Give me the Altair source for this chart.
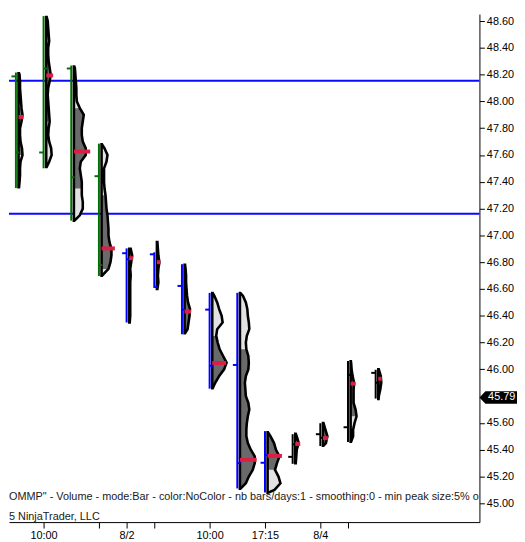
import altair as alt
import pandas as pd

# ---------------- data ----------------
IDX = list(range(1, 15))
GROUP = ["s1", "s1", "s1", "s1", "s2", "s2", "s2", "s2", "s2", "s2", "s3", "s3", "s3", "s3"]
GROUP_COLORS = ["#007000", "#0000ff", "#000000"]

HIGH = [48.216, 48.637, 48.268, 47.685, 46.903, 46.874, 46.785, 46.571, 46.571, 45.539, 45.516, 45.598, 46.062, 45.997]
LOW = [47.353, 47.501, 47.110, 46.697, 46.350, 46.608, 46.262, 45.856, 45.111, 45.081, 45.295, 45.428, 45.457, 45.782]
OPEN = [48.187, 47.619, 48.246, 47.442, 46.867, 46.859, 46.623, 46.446, 46.033, 45.303, 45.347, 45.516, 45.568, 45.974]
CLOSE = [47.619, 48.246, 47.434, 46.778, 46.822, 46.616, 46.446, 46.026, 45.300, 45.360, 45.440, 45.490, 45.959, 45.900]
POC = [47.884, 48.194, 47.626, 46.903, 46.830, 46.800, 46.431, 46.048, 45.325, 45.354, 45.443, 45.487, 45.893, 45.930]
POC_VOL = [5, 7, 16.5, 13.5, 4, 3.5, 6.5, 14, 17, 14.5, 5, 5, 5, 3.5]
VA_HIGH = [47.98, 48.32, 47.97, 47.30, 46.88, 46.85, 46.56, 46.27, 46.16, 45.52, 45.48, 45.56, 45.95, 45.96]
VA_LOW = [47.58, 47.82, 47.33, 46.72, 46.78, 46.70, 46.30, 45.88, 45.11, 45.22, 45.38, 45.45, 45.62, 45.85]

P01_PRICE = [48.21, 48.20, 48.15, 48.10, 48.05, 48.00, 47.95, 47.90, 47.85, 47.80, 47.75, 47.70, 47.65, 47.60, 47.55, 47.50, 47.45, 47.40, 47.36]
P01_VOL = [0.5, 1, 1.5, 1.5, 2, 2.5, 3, 4, 3, 1.5, 1.5, 2, 3.5, 4, 2, 1.5, 1.5, 1, 0.5]
P02_PRICE = [48.63, 48.60, 48.55, 48.50, 48.45, 48.40, 48.35, 48.30, 48.25, 48.20, 48.15, 48.10, 48.05, 48.00, 47.95, 47.90, 47.85, 47.80, 47.75, 47.70, 47.65, 47.60, 47.55, 47.51]
P02_VOL = [0.5, 1.5, 2, 2.5, 3, 2, 2, 2.5, 3.5, 4.5, 3.5, 2, 1.5, 2, 2.5, 3, 3.5, 2.5, 2, 3, 5, 5.5, 3, 0.5]
P03_PRICE = [48.26, 48.25, 48.20, 48.15, 48.10, 48.05, 48.00, 47.95, 47.90, 47.85, 47.80, 47.75, 47.70, 47.65, 47.60, 47.55, 47.50, 47.45, 47.40, 47.35, 47.30, 47.25, 47.20, 47.15, 47.11]
P03_VOL = [0.5, 1, 1.5, 2, 2.5, 2.5, 3, 6, 10, 9, 8, 8, 9, 12, 12, 7, 6, 7, 8, 8, 8, 9, 9, 6, 0.5]
P04_PRICE = [47.68, 47.65, 47.60, 47.55, 47.50, 47.45, 47.40, 47.35, 47.30, 47.25, 47.20, 47.15, 47.10, 47.05, 47.00, 46.95, 46.90, 46.85, 46.80, 46.75, 46.70]
P04_VOL = [0.5, 3, 6, 5, 2.5, 2.5, 2.5, 3, 4, 4.5, 5, 6, 6.5, 7, 7, 8, 10, 10, 9, 7, 0.5]
P05_PRICE = [46.90, 46.85, 46.80, 46.75, 46.70, 46.65, 46.60, 46.55, 46.50, 46.45, 46.40, 46.35]
P05_VOL = [1.5, 3, 2, 1, 1.5, 1, 1, 1, 1, 1, 1, 0.5]
P06_PRICE = [46.95, 46.90, 46.85, 46.80, 46.75, 46.70, 46.65, 46.60]
P06_VOL = [0.5, 1, 1.5, 2.5, 1.5, 1, 1.5, 0.5]
P07_PRICE = [46.78, 46.75, 46.70, 46.65, 46.60, 46.55, 46.50, 46.45, 46.40, 46.35, 46.30, 46.27]
P07_VOL = [0.5, 1, 1.5, 1.5, 2, 2.5, 3.5, 5.5, 5, 4, 3, 0.5]
P08_PRICE = [46.57, 46.55, 46.50, 46.45, 46.40, 46.35, 46.30, 46.25, 46.20, 46.15, 46.10, 46.05, 46.00, 45.95, 45.90, 45.86]
P08_VOL = [0.5, 2, 5, 7, 9.5, 10.5, 5, 4, 5.5, 7.5, 11, 14.5, 12, 7, 3, 0.5]
P09_PRICE = [46.57, 46.55, 46.50, 46.45, 46.40, 46.35, 46.30, 46.25, 46.20, 46.15, 46.10, 46.05, 46.00, 45.95, 45.90, 45.85,
             45.80, 45.75, 45.70, 45.65, 45.60, 45.55, 45.50, 45.45, 45.40, 45.35, 45.30, 45.25, 45.20, 45.15, 45.11]
P09_VOL = [0.5, 3, 6, 7.5, 8, 9, 9.5, 7, 6, 6.5, 8.5, 9, 8.5, 6, 5, 5.5,
           6, 8.5, 9.5, 8, 7, 6.5, 6.5, 8, 11, 15, 15, 13, 9, 6, 0.5]
P10_PRICE = [45.53, 45.50, 45.45, 45.40, 45.35, 45.30, 45.25, 45.20, 45.15, 45.10, 45.08]
P10_VOL = [0.5, 3, 6.5, 8.5, 12, 9.5, 7.5, 11, 13, 7, 0.5]
P11_PRICE = [45.52, 45.50, 45.45, 45.40, 45.35, 45.30]
P11_VOL = [0.5, 1.5, 3.5, 1.5, 1, 0.5]
P12_PRICE = [45.60, 45.55, 45.50, 45.45, 45.43]
P12_VOL = [0.5, 2.5, 4.5, 3, 0.5]
P13_PRICE = [46.06, 46.05, 46.00, 45.95, 45.90, 45.85, 45.80, 45.75, 45.70, 45.65, 45.60, 45.55, 45.50, 45.46]
P13_VOL = [0.3, 0.5, 1, 2, 3.5, 3, 3, 3, 5, 6, 4, 2.5, 2.5, 0.5]
P14_PRICE = [46.00, 45.95, 45.90, 45.85, 45.80, 45.78]
P14_VOL = [0.5, 2.5, 3, 2, 0.5, 0.3]

PRICES = [P01_PRICE, P02_PRICE, P03_PRICE, P04_PRICE, P05_PRICE, P06_PRICE, P07_PRICE,
          P08_PRICE, P09_PRICE, P10_PRICE, P11_PRICE, P12_PRICE, P13_PRICE, P14_PRICE]
VOLS = [P01_VOL, P02_VOL, P03_VOL, P04_VOL, P05_VOL, P06_VOL, P07_VOL,
        P08_VOL, P09_VOL, P10_VOL, P11_VOL, P12_VOL, P13_VOL, P14_VOL]

HLINES = [48.154, 47.161]
LAST_PRICE = 45.79

Y_TICKS = [45.0, 45.2, 45.4, 45.6, 46.0, 46.2, 46.4, 46.6, 46.8, 47.0, 47.2, 47.4, 47.6, 47.8, 48.0, 48.2, 48.4, 48.6]
X_TICK_POS = [2, 4, 5, 6, 8, 10, 12, 13]
X_TICK_LABELS = ["10:00", "", "8/2", "", "10:00", "17:15", "8/4", ""]

INDICATOR_TEXT = 'OMMP" - Volume - mode:Bar - color:NoColor - nb bars/days:1 - smoothing:0 - min peak size:5% o'
COPYRIGHT_TEXT = "5 NinjaTrader, LLC"

# ---------------- styling ----------------
BASE_OFF = 0.095
VOL_SCALE = 1 / 28.0
FONT = "Liberation Sans"

rows = []
for i, (pr, vo) in enumerate(zip(PRICES, VOLS)):
    for p, v in zip(pr, vo):
        rows.append({"pid": IDX[i], "price": p, "vol": v,
                     "va": bool(VA_LOW[i] <= p <= VA_HIGH[i])})
prof = pd.DataFrame(rows)

bars = pd.DataFrame({"idx": IDX, "grp": GROUP, "high": HIGH, "low": LOW,
                     "open": OPEN, "close": CLOSE, "poc": POC, "poc_vol": POC_VOL})

label_expr = "''"
for pos, lab in reversed(list(zip(X_TICK_POS, X_TICK_LABELS))):
    label_expr = f"datum.value == {pos} ? '{lab}' : {label_expr}"

XS = alt.Scale(domain=[0.75, 17.75], nice=False, zero=False)
YS = alt.Scale(domain=[44.86, 48.652], nice=False, zero=False)
XAX = alt.Axis(values=X_TICK_POS, labelExpr=label_expr, tickSize=6, tickColor="black",
               domainColor="black", labelColor="black", labelFont=FONT, labelFontSize=11,
               labelPadding=2, labelFlush=False, labelOverlap=False, grid=False, title=None)
YAX = alt.Axis(orient="right", values=Y_TICKS, format=".2f", tickSize=5, tickColor="black",
               domainColor="black", labelColor="black", labelFont=FONT, labelFontSize=11,
               labelPadding=2, labelFlush=False, labelOverlap=False, grid=False, title=None)


def X(f):
    return alt.X(f"{f}:Q", scale=XS, axis=XAX)


def Y(f):
    return alt.Y(f"{f}:Q", scale=YS, axis=YAX)


color_enc = alt.Color("grp:N", scale=alt.Scale(domain=["s1", "s2", "s3"], range=GROUP_COLORS), legend=None)

pbase = alt.Chart(prof).transform_calculate(
    base=f"datum.pid + {BASE_OFF}",
    edge=f"datum.pid + {BASE_OFF} + datum.vol * {VOL_SCALE}",
)

hl = alt.Chart(pd.DataFrame({"level": HLINES})).mark_rule(color="#0a0aff", strokeWidth=2).encode(y=Y("level"))

light = pbase.mark_area(orient="horizontal", color="#e2e2e2").encode(
    y=Y("price"), x=X("edge"), x2="base:Q", detail="pid:N")
dark = pbase.transform_filter("datum.va").mark_area(orient="horizontal", color="#6a6a6a").encode(
    y=Y("price"), x=X("edge"), x2="base:Q", detail="pid:N")
outline = pbase.mark_area(orient="horizontal", fillOpacity=0, stroke="black", strokeWidth=2.6,
                          strokeJoin="miter").encode(
    y=Y("price"), x=X("edge"), x2="base:Q", detail="pid:N")

bb = alt.Chart(bars).transform_calculate(
    ox="datum.idx - 0.16",
    cx="datum.idx + 0.12",
    base=f"datum.idx + {BASE_OFF}",
    pend=f"datum.idx + {BASE_OFF} + datum.poc_vol * {VOL_SCALE}",
)
vline = bb.mark_rule(strokeWidth=2).encode(x=X("idx"), y=Y("low"), y2="high:Q", color=color_enc)
otick = bb.mark_rule(strokeWidth=2).encode(x=X("ox"), x2="idx:Q", y=Y("open"), color=color_enc)
ctick = bb.mark_rule(strokeWidth=2).encode(x=X("idx"), x2="cx:Q", y=Y("close"), color=color_enc)
pocbar = bb.mark_rule(strokeWidth=4, color="#dc1e44", strokeCap="butt").encode(
    x=X("base"), x2="pend:Q", y=Y("poc"))

ind = alt.Chart(pd.DataFrame({"t": [INDICATOR_TEXT]})).mark_text(
    align="left", baseline="middle", font=FONT, fontSize=11, color="#1a1a1a", clip=True
).encode(x=alt.value(0), y=alt.value(489), text="t:N")
cop = alt.Chart(pd.DataFrame({"t": [COPYRIGHT_TEXT]})).mark_text(
    align="left", baseline="middle", font=FONT, fontSize=11, color="#1a1a1a", clip=True
).encode(x=alt.value(0), y=alt.value(509), text="t:N")

tag_path = "M -1 0 L -0.68 -0.33 L 1 -0.33 L 1 0.33 L -0.68 0.33 Z"
lp = pd.DataFrame({"p": [LAST_PRICE], "t": [f"{LAST_PRICE:.2f}"]})
tag = alt.Chart(lp).mark_point(shape=tag_path, filled=True, color="black", size=1444, opacity=1).encode(
    x=alt.value(495), y=Y("p"))
tagtxt = alt.Chart(lp).mark_text(align="center", baseline="middle", font=FONT, fontSize=11, color="white").encode(
    x=alt.value(498.5), y=Y("p"), text="t:N")

chart = alt.layer(
    hl, light, dark, outline, vline, otick, ctick, pocbar, ind, cop, tag, tagtxt
).properties(
    width=476, height=514,
    padding={"left": 0, "top": 0, "right": 0, "bottom": 0},
    background="white",
).configure_view(stroke=None)

chart.save("out.html", embed_options={"renderer": "svg", "actions": False})
